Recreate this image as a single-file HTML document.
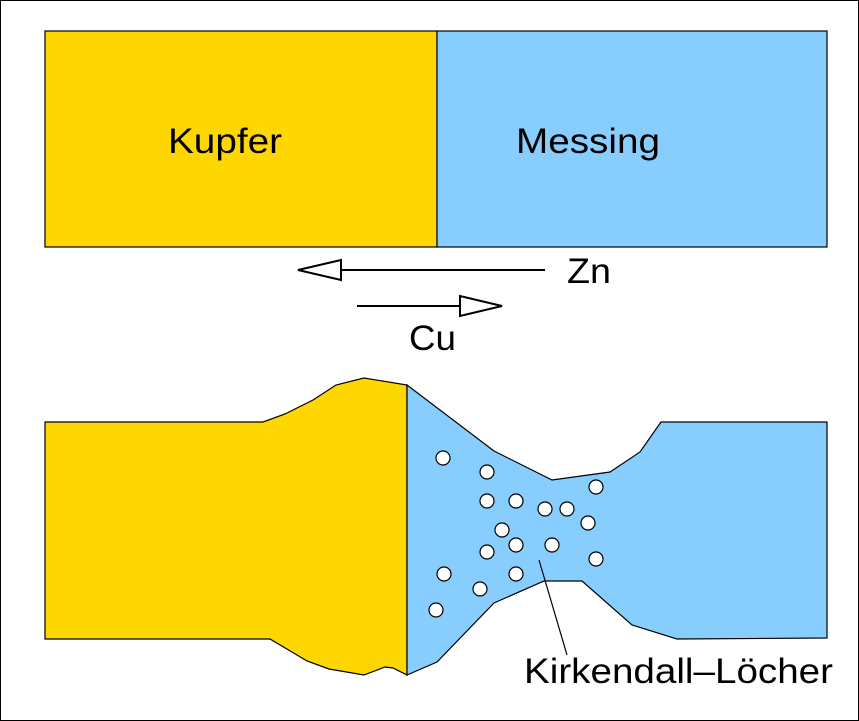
<!DOCTYPE html>
<html><head><meta charset="utf-8"><style>html,body{margin:0;padding:0;background:#fff}svg{display:block}</style></head>
<body>
<svg width="859" height="721" viewBox="0 0 859 721" xmlns="http://www.w3.org/2000/svg" font-family="Liberation Sans, sans-serif">
<rect x="0.5" y="0.5" width="858" height="720" fill="#fff" stroke="#000" stroke-width="1"/>
<rect x="45" y="31" width="392" height="216" fill="#FFD700" stroke="#000" stroke-width="1.2"/>
<rect x="437" y="31" width="390" height="216" fill="#87CEFF" stroke="#000" stroke-width="1.2"/>
<text x="168" y="153" font-size="35" textLength="114" lengthAdjust="spacingAndGlyphs">Kupfer</text>
<text x="516" y="153" font-size="35" textLength="144" lengthAdjust="spacingAndGlyphs">Messing</text>
<line x1="341" y1="270" x2="545" y2="270" stroke="#000" stroke-width="2"/>
<polygon points="298,270 341,260 341,280" fill="#fff" stroke="#000" stroke-width="2"/>
<line x1="357" y1="306" x2="460" y2="306" stroke="#000" stroke-width="2"/>
<polygon points="502,306 460,296 460,316" fill="#fff" stroke="#000" stroke-width="2"/>
<text x="567" y="283" font-size="35" textLength="44" lengthAdjust="spacingAndGlyphs">Zn</text>
<text x="409" y="350" font-size="35" textLength="47" lengthAdjust="spacingAndGlyphs">Cu</text>
<polygon points="45,422 263,422 285,414 313,400 336,385 364,378 407,385 407,675 393,668 385,667 364,675 329,669 307,661 270,639 45,639" fill="#FFD700" stroke="#000" stroke-width="1.2"/>
<polygon points="407,385 494,451 552,480 610,472 640,452 661,422 827,422 827,638 677,639 632,625 582,581 544,581 494,603 437,662 407,675" fill="#87CEFF" stroke="#000" stroke-width="1.2"/>
<g fill="#fff" stroke="#000" stroke-width="1.2">
<circle cx="443" cy="458" r="7"/><circle cx="487" cy="472" r="7"/><circle cx="487" cy="501" r="7"/>
<circle cx="516" cy="501" r="7"/><circle cx="545" cy="509" r="7"/><circle cx="567" cy="509" r="7"/>
<circle cx="596" cy="487" r="7"/><circle cx="588" cy="523" r="7"/><circle cx="502" cy="530" r="7"/>
<circle cx="516" cy="545" r="7"/><circle cx="487" cy="552" r="7"/><circle cx="552" cy="545" r="7"/>
<circle cx="596" cy="559" r="7"/><circle cx="444" cy="574" r="7"/><circle cx="516" cy="574" r="7"/>
<circle cx="480" cy="589" r="7"/><circle cx="436" cy="610" r="7"/>
</g>
<line x1="539" y1="560" x2="567" y2="655" stroke="#000" stroke-width="1.2"/>
<text x="524" y="683" font-size="35" textLength="309" lengthAdjust="spacingAndGlyphs">Kirkendall–Löcher</text>
</svg>
</body></html>
